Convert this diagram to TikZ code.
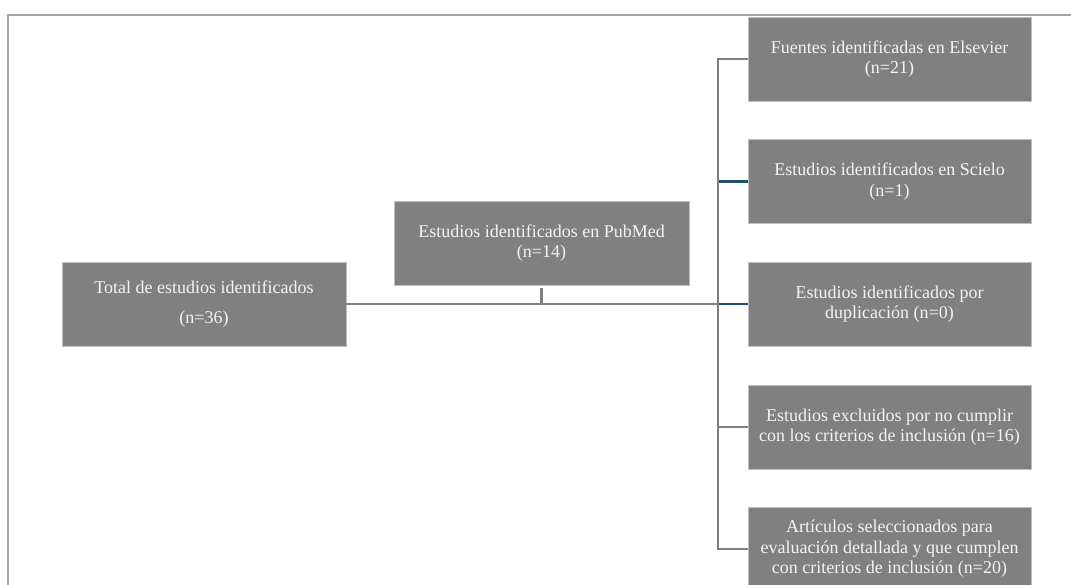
\documentclass[tikz,border=0pt]{standalone}
\usepackage{fontspec}
\setmainfont{Liberation Serif}
\definecolor{boxgray}{HTML}{808080}
\definecolor{edgegray}{HTML}{BFBFBF}
\definecolor{boxtext}{HTML}{F4F4F4}
\definecolor{linegray}{HTML}{7F7F7F}
\definecolor{lineblue}{HTML}{1F4E6E}
\definecolor{framegray}{HTML}{A6A6A6}
\begin{document}
\begin{tikzpicture}[x=1pt,y=-1pt,
  box/.style={fill=boxgray,draw=edgegray,line width=0.8pt,minimum width=283pt,minimum height=84pt,
    inner sep=0pt,text=boxtext,align=center,font=\fontsize{18}{20.5}\selectfont},
  link/.style={draw=linegray,line width=2.5pt},
  bluelink/.style={draw=lineblue,line width=2.5pt}]
\useasboundingbox (0,0) rectangle (1071,585);
\clip (0,0) rectangle (1071,585);
\draw[framegray,line width=1.5pt] (8,600)--(8,15)--(1080,15);

\node[box,minimum width=284pt] (total) at (204,304) {Total de estudios identificados\\[10pt](n=36)};
\node[box,minimum width=295pt] (pubmed) at (541.5,243) {Estudios identificados en PubMed\\(n=14)};
\node[box] (elsevier) at (889.5,59) {Fuentes identificadas en Elsevier\\(n=21)};
\node[box] (scielo) at (889.5,181.5) {Estudios identificados en Scielo\\(n=1)};
\node[box] (duplicados) at (889.5,304) {Estudios identificados por\\duplicación (n=0)};
\node[box] (excluidos) at (889.5,427) {Estudios excluidos por no cumplir\\con los criterios de inclusión (n=16)};
\node[box] (articulos) at (889.5,549) {Artículos seleccionados para\\evaluación detallada y que cumplen\\con criterios de inclusión (n=20)};

\coordinate (bus) at (718,304);
\draw[link] (total.east)--(bus);
\draw[link] ([yshift=-3pt]pubmed.south)--(pubmed.south |- bus);
\draw[bluelink] (bus |- scielo.west)--(scielo.west);
\draw[bluelink] (bus)--(duplicados.west);
\draw[link] (elsevier.west)--(bus |- elsevier.west)--(bus |- articulos.west)--(articulos.west);
\draw[link] (bus |- excluidos.west)--(excluidos.west);
\end{tikzpicture}
\end{document}
